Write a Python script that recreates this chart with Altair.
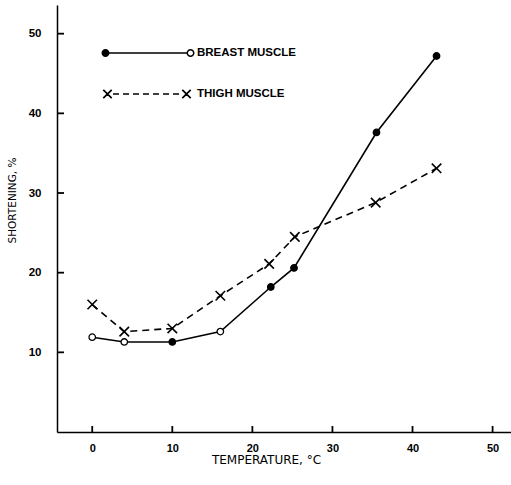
import math
import altair as alt
import pandas as pd

# ---- data ----
breast_temp = [0, 4, 10, 16, 22.3, 25.2, 35.5, 43]
breast_short = [11.9, 11.3, 11.3, 12.6, 18.2, 20.6, 37.6, 47.2]
breast_filled = [False, False, True, False, True, True, True, True]

thigh_temp = [0, 4, 10, 16, 22.1, 25.3, 35.4, 43]
thigh_short = [16.0, 12.6, 13.0, 17.1, 21.1, 24.5, 28.8, 33.1]

series_names = ["BREAST MUSCLE", "THIGH MUSCLE"]
x_ticks = [0, 10, 20, 30, 40, 50]
y_ticks = [10, 20, 30, 40, 50]

breast = pd.DataFrame({"temp": breast_temp, "short": breast_short,
                       "filled": breast_filled, "series": series_names[0]})
thigh = pd.DataFrame({"temp": thigh_temp, "short": thigh_short,
                      "filled": [False] * len(thigh_temp), "series": series_names[1]})
df = pd.concat([breast, thigh], ignore_index=True)

# ---- legend symbol paths (style only, filled outlines) ----
def circ(cx, r, cw=True):
    s = 1 if cw else 0
    return (f"M{cx - r:.3f},0A{r},{r} 0 1,{s} {cx + r:.3f},0"
            f"A{r},{r} 0 1,{s} {cx - r:.3f},0Z")

def rect(a, b, t):
    return f"M{a:.3f},{-t}L{b:.3f},{-t}L{b:.3f},{t}L{a:.3f},{t}Z"

def seg(x1, y1, x2, y2, t):
    dx, dy = x2 - x1, y2 - y1
    ln = math.hypot(dx, dy)
    px, py = -dy / ln * t, dx / ln * t
    pts = [(x1 + px, y1 + py), (x2 + px, y2 + py), (x2 - px, y2 - py), (x1 - px, y1 - py)]
    return "M" + "L".join(f"{x:.3f},{y:.3f}" for x, y in pts) + "Z"

def xmark(cx, h, t):
    return seg(cx - h, -h, cx + h, h, t) + seg(cx - h, h, cx + h, -h, t)

T = 0.085
breast_legend_path = (rect(-4.25, 3.87, T) + circ(-4.25, 0.4) +
                      circ(4.25, 0.4, True) + circ(4.25, 0.25, False))
dash_parts = []
x0 = -3.5
while x0 + 0.6 < 3.45:
    dash_parts.append(rect(x0, x0 + 0.6, T))
    x0 += 1.0
thigh_legend_path = xmark(-4.05, 0.42, T) + "".join(dash_parts) + xmark(3.85, 0.42, T)
x_path = "M-1,-1L1,1M-1,1L1,-1"

W, H = 454, 427
X_MIN = -4.4
xscale = alt.Scale(domain=[X_MIN, 52.3], nice=False, zero=False)
yscale = alt.Scale(domain=[0, 53.6], nice=False, zero=False)

lab_font = "Liberation Sans"
tit_font = "DejaVu Sans"

x_axis = alt.Axis(
    values=x_ticks, ticks=False, grid=False, domain=True, domainColor="black",
    domainWidth=1.5, labelFont=lab_font, labelFontSize=11, labelFontWeight="bold",
    labelColor="black", labelPadding=10, title="TEMPERATURE, °C",
    titleFont=tit_font, titleFontSize=12, titleFontWeight="normal", titleColor="black",
    titleX=209, titleY=27, titleAlign="center", titleBaseline="middle")
y_axis = alt.Axis(
    values=y_ticks, ticks=False, grid=False, domain=True, domainColor="black",
    domainWidth=1.5, labelFont=lab_font, labelFontSize=11.5, labelFontWeight="bold",
    labelColor="black", labelPadding=16, title="SHORTENING, %",
    titleFont=tit_font, titleFontSize=10.5, titleFontWeight="normal", titleColor="black",
    titleX=-45, titleY=195, titleAngle=270, titleAlign="center", titleBaseline="middle")

X_ax = alt.X("temp:Q", scale=xscale, axis=x_axis)
Y_ax = alt.Y("short:Q", scale=yscale, axis=y_axis)
X = alt.X("temp:Q", scale=xscale, axis=None)
Y = alt.Y("short:Q", scale=yscale, axis=None)

base = alt.Chart(df)

breast_line = base.transform_filter(
    alt.datum.series == series_names[0]).mark_line(
    color="black", strokeWidth=1.6).encode(x=X_ax, y=Y_ax, order="temp:Q")

thigh_line = base.transform_filter(
    alt.datum.series == series_names[1]).mark_line(
    color="black", strokeWidth=1.6, strokeDash=[7, 5]).encode(x=X, y=Y, order="temp:Q")

breast_pts = base.transform_filter(
    alt.datum.series == series_names[0]).mark_point(
    shape="circle", filled=True, size=42, stroke="black", strokeWidth=1.3,
    opacity=1).encode(
    x=X, y=Y,
    fill=alt.condition("datum.filled", alt.value("black"), alt.value("white")))

thigh_pts = base.transform_filter(
    alt.datum.series == series_names[1]).mark_point(
    shape=x_path, filled=False, size=90, stroke="black", strokeWidth=1.6,
    opacity=1).encode(x=X, y=Y)

# inward-pointing axis ticks, positioned through the scales
xtick_layer = alt.Chart(pd.DataFrame({"t": x_ticks})).mark_tick(
    orient="vertical", size=6, thickness=1.8, color="black", yOffset=-3, opacity=1).encode(
    x=alt.X("t:Q", scale=xscale, axis=None),
    y=alt.datum(0, scale=yscale, axis=None))
ytick_layer = alt.Chart(pd.DataFrame({"t": y_ticks})).mark_tick(
    orient="horizontal", size=7, thickness=1.8, color="black", xOffset=3.5, opacity=1).encode(
    y=alt.Y("t:Q", scale=yscale, axis=None),
    x=alt.datum(X_MIN, scale=xscale, axis=None))

legend_layer = base.transform_filter("datum.temp < -1000").mark_point(
    filled=True, color="black", opacity=1).encode(
    x=X, y=Y,
    shape=alt.Shape("series:N",
                    scale=alt.Scale(domain=series_names,
                                    range=[breast_legend_path, thigh_legend_path]),
                    legend=alt.Legend(
                        orient="none", legendX=80, legendY=37, title=None,
                        direction="vertical", symbolSize=400, rowPadding=23,
                        labelOffset=38, labelFont=lab_font, labelFontSize=11.5,
                        labelFontWeight="bold", labelColor="black",
                        symbolFillColor="black", symbolOpacity=1)))

chart = alt.layer(breast_line, thigh_line, breast_pts, thigh_pts,
                  xtick_layer, ytick_layer, legend_layer).resolve_axis(
    x="independent", y="independent").properties(
    width=W, height=H,
    autosize=alt.AutoSizeParams(type="none"),
    padding={"left": 57, "top": 5, "right": 0, "bottom": 53},
    background="white").configure_view(stroke=None)

chart.save("out.html", embed_options={"renderer": "svg", "actions": False})
